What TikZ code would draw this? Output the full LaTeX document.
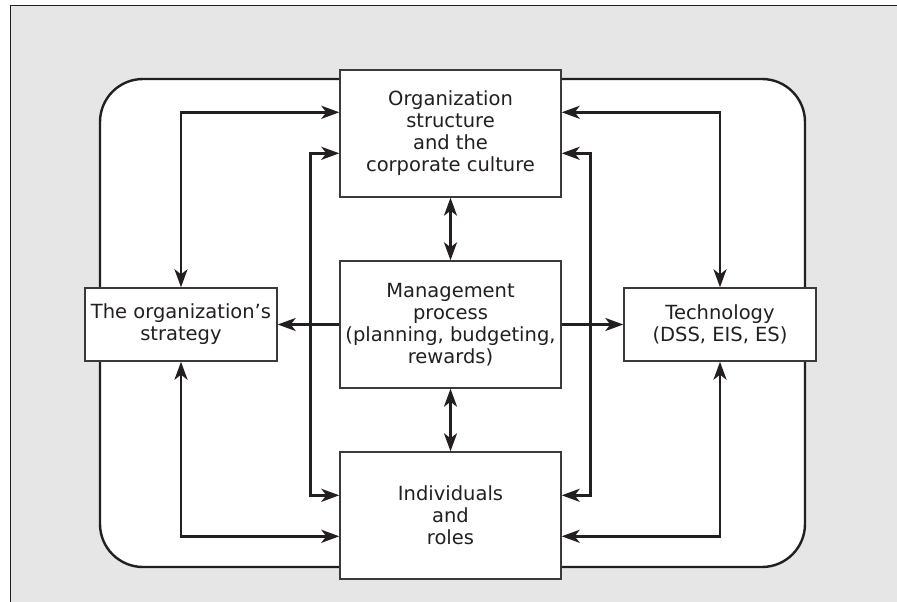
\documentclass[tikz,border=0pt]{standalone}
\usepackage{fontspec}
\setmainfont{DejaVu Sans}
\usetikzlibrary{arrows.meta}
\definecolor{ink}{HTML}{231F20}
\definecolor{bggray}{HTML}{E6E6E6}
\definecolor{boxline}{HTML}{3A3A3A}
\begin{document}
\begin{tikzpicture}[x=1pt,y=-1pt,
  every node/.style={font=\fontsize{19.5}{22}\selectfont, text=ink},
  boxnode/.style={draw=boxline, line width=1.4pt, fill=white, align=center, inner sep=0pt},
  bigbox/.style={boxnode, minimum width=221pt, minimum height=127pt},
  sidebox/.style={boxnode, minimum width=192pt, minimum height=73pt},
  link/.style={draw=ink, line width=2.6pt, {Stealth[length=18pt,width=13pt,inset=5pt]}-{Stealth[length=18pt,width=13pt,inset=5pt]}},
  onelink/.style={draw=ink, line width=2.6pt, -{Stealth[length=18pt,width=13pt,inset=5pt]}}
]
\useasboundingbox (0,0) rectangle (897,602);
% background panel
\fill[bggray] (10,6) rectangle (897,602);
\draw[ink, line width=1pt] (10,602) -- (10,6) -- (897,6);
% rounded frame
\draw[ink, line width=2.4pt, fill=white, rounded corners=43pt] (100,79) rectangle (805,567);

% nodes
\node[bigbox] (top) at (450.5,133.5) {Organization\\structure\\and the\\corporate culture};
\node[bigbox] (mgmt) at (450.5,324.5) {Management\\process\\(planning, budgeting,\\rewards)};
\node[bigbox] (bottom) at (450.5,515.5) {Individuals\\and\\roles};
\node[sidebox] (left) at (181,324.5) {The organization’s\\strategy};
\node[sidebox] (right) at (720,324.5) {Technology\\(DSS, EIS, ES)};

% horizontal arrows from management
\draw[onelink] (mgmt.west) -- (left.east);
\draw[onelink] (mgmt.east) -- (right.west);

% vertical double arrows
\draw[link] (top.south) -- (mgmt.north);
\draw[link] (mgmt.south) -- (bottom.north);

% outer loops left
\draw[link] ([yshift=-43pt]top.north west) -| (left.north);
\draw[link] (left.south) |- ([yshift=-85pt]bottom.north west);
% outer loops right
\draw[link] ([yshift=-43pt]top.north east) -| (right.north);
\draw[link] (right.south) |- ([yshift=-85pt]bottom.north east);

% inner loops
\draw[link] ([yshift=-84pt]top.north west) -- ++(-29pt,0) |- ([yshift=-44pt]bottom.north west);
\draw[link] ([yshift=-84pt]top.north east) -- ++(29pt,0) |- ([yshift=-44pt]bottom.north east);
\end{tikzpicture}
\end{document}
